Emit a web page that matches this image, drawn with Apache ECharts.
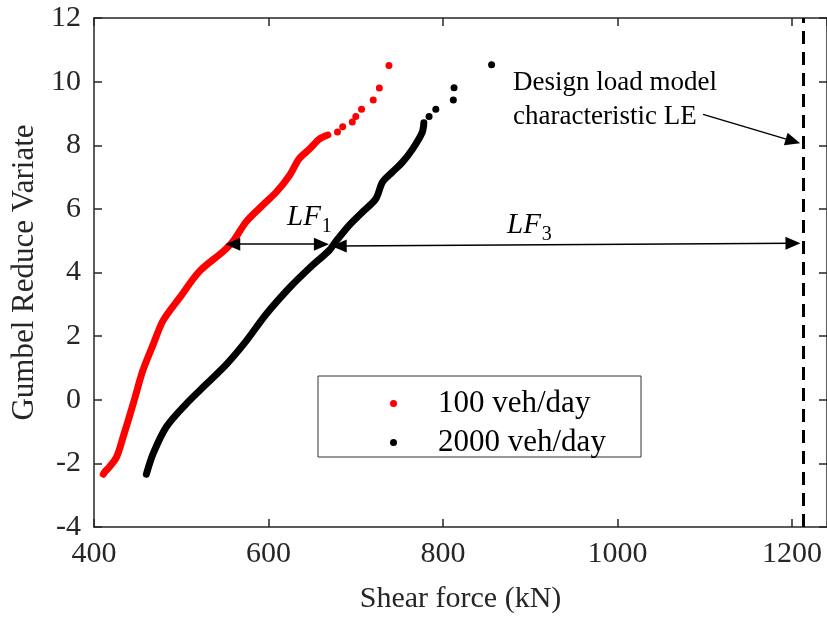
<!DOCTYPE html>
<html>
<head>
<meta charset="utf-8">
<title>Gumbel plot</title>
<script src="https://cdn.jsdelivr.net/npm/echarts@6/dist/echarts.min.js"></script>
<style>
    body { margin: 0; padding: 0; }
    #main { width: 827px; height: 619px; }
</style>
</head>
<body>
<div id="main"></div>
<script type="text/javascript">
// values: [shear force kN, gumbel reduced variate]
var red_dense = [[410.6,-2.34],[413,-2.25],[418,-2.1],[426,-1.79],[433.5,-1.16],[445,-0.12],[456,0.92],
    [468,1.75],[479,2.48],[498,3.2],[521,4.04],[548,4.66],[559,4.97],[574.5,5.6],[593.5,6.12],
    [609,6.53],[624,7.05],[635,7.57],[647,7.88],[658,8.19],[668,8.32]];
var red_tail = [[679,8.42],[685,8.58],[696,8.73],[700,8.9],[706.6,9.13],[720,9.42],[727,9.8],[738,10.51]];

var black_dense = [[460,-2.34],[468,-1.68],[483,-0.85],[506,-0.12],[529,0.5],[552,1.12],[574.5,1.85],
    [597,2.68],[624,3.52],[647,4.14],[670,4.71],[677,4.97],[692.6,5.49],[708,5.91],[723,6.32],
    [730.6,6.84],[742,7.16],[753.5,7.47],[765,7.88],[776,8.4],[778,8.71]];
var black_tail = [[784,8.9],[791.7,9.13],[811.8,9.42],[812.6,9.81],[855.6,10.53]];

var names = ['100 veh/day', '2000 veh/day'];
var design_LE = 1213;
var lf1 = [[559, 4.89], [660.6, 4.89]];
var lf3 = [[681, 4.83], [1201, 4.92]];
var design_arrow = [[1098, 8.97], [1201, 8.13]];

var font = 'Liberation Serif';
var axisColor = '#262626';

var xBase = {
    type: 'value', min: 400, max: 1240, interval: 200,
    axisLine: { onZero: false, lineStyle: { color: axisColor, width: 1.5 } },
    axisTick: { inside: true, length: 8, lineStyle: { color: axisColor, width: 1.5 } },
    splitLine: { show: false }
};
var yBase = {
    type: 'value', min: -4, max: 12, interval: 2,
    axisLine: { onZero: false, lineStyle: { color: axisColor, width: 1.5 } },
    axisTick: { inside: true, length: 8, lineStyle: { color: axisColor, width: 1.5 } },
    splitLine: { show: false }
};

var option = {
    animation: false,
    backgroundColor: '#fff',
    grid: { left: 94, top: 18, width: 735, height: 513 },
    xAxis: [
        Object.assign({}, xBase, {
            position: 'bottom',
            name: 'Shear force (kN)', nameLocation: 'middle', nameGap: 57,
            nameTextStyle: { fontFamily: font, fontSize: 30, color: axisColor },
            axisLabel: { fontFamily: font, fontSize: 30, color: axisColor, margin: 12, showMaxLabel: false,
                         formatter: function (v) { return String(v); } }
        }),
        Object.assign({}, xBase, { position: 'top', axisLabel: { show: false } })
    ],
    yAxis: [
        Object.assign({}, yBase, {
            position: 'left',
            name: 'Gumbel Reduce Variate', nameLocation: 'middle', nameGap: 51,
            nameTextStyle: { fontFamily: font, fontSize: 31, color: axisColor },
            axisLabel: { fontFamily: font, fontSize: 30, color: axisColor, margin: 13 }
        }),
        Object.assign({}, yBase, { position: 'right', axisLabel: { show: false } })
    ],
    legend: {
        orient: 'vertical', left: 385, top: 383,
        icon: 'circle', itemWidth: 7, itemHeight: 7, itemGap: 8,
        data: names,
        textStyle: { fontFamily: font, fontSize: 31, color: '#000', lineHeight: 30, padding: [0, 0, 0, 36] }
    },
    graphic: [
        { type: 'rect', z: 1, shape: { x: 318, y: 376, width: 323, height: 81 },
          style: { fill: '#fff', stroke: '#333', lineWidth: 1 } },
        { type: 'text', left: 513, top: 66,
          style: { text: 'Design load model\ncharacteristic LE', font: '27px "Liberation Serif"',
                   lineHeight: 34, fill: '#000' } },
        { type: 'text', left: 287, top: 203,
          style: { text: '{a|LF}{b|1}', rich: {
              a: { fontFamily: font, fontStyle: 'italic', fontSize: 29, lineHeight: 34, verticalAlign: 'top' },
              b: { fontFamily: font, fontSize: 20, lineHeight: 34, verticalAlign: 'bottom', padding: [14, 0, 0, 1] } } } },
        { type: 'text', left: 507, top: 211,
          style: { text: '{a|LF}{b|3}', rich: {
              a: { fontFamily: font, fontStyle: 'italic', fontSize: 29, lineHeight: 34, verticalAlign: 'top' },
              b: { fontFamily: font, fontSize: 20, lineHeight: 34, verticalAlign: 'bottom', padding: [14, 0, 0, 1] } } } }
    ],
    series: [
        {
            name: names[0], type: 'line', data: red_dense, showSymbol: false, smooth: 0.3,
            lineStyle: { color: '#ff0000', width: 7, cap: 'round', join: 'round' },
            itemStyle: { color: '#ff0000' }, z: 3
        },
        {
            name: names[0], type: 'scatter', data: red_tail, symbolSize: 7,
            itemStyle: { color: '#ff0000', opacity: 1 }, z: 3
        },
        {
            name: names[1], type: 'line', data: black_dense, showSymbol: false, smooth: 0.3,
            lineStyle: { color: '#000', width: 7, cap: 'round', join: 'round' },
            itemStyle: { color: '#000' }, z: 3,
            markLine: {
                silent: true,
                label: { show: false },
                lineStyle: { color: '#000', width: 1.5, type: 'solid' },
                symbolSize: [13, 15],
                data: [
                    [{ coord: lf1[0], symbol: 'triangle' }, { coord: lf1[1], symbol: 'triangle' }],
                    [{ coord: lf3[0], symbol: 'triangle' }, { coord: lf3[1], symbol: 'triangle' }],
                    [{ coord: design_arrow[0], symbol: 'none' }, { coord: design_arrow[1], symbol: 'triangle' }]
                ]
            }
        },
        {
            name: names[1], type: 'scatter', data: black_tail, symbolSize: 7,
            itemStyle: { color: '#000', opacity: 1 }, z: 3,
            markLine: {
                silent: true, symbol: 'none',
                label: { show: false },
                lineStyle: { color: '#000', width: 3, type: [13, 8] },
                data: [{ xAxis: design_LE }]
            }
        }
    ]
};

var myChart = echarts.init(document.getElementById('main'));
myChart.setOption(option);
</script>
</body>
</html>
